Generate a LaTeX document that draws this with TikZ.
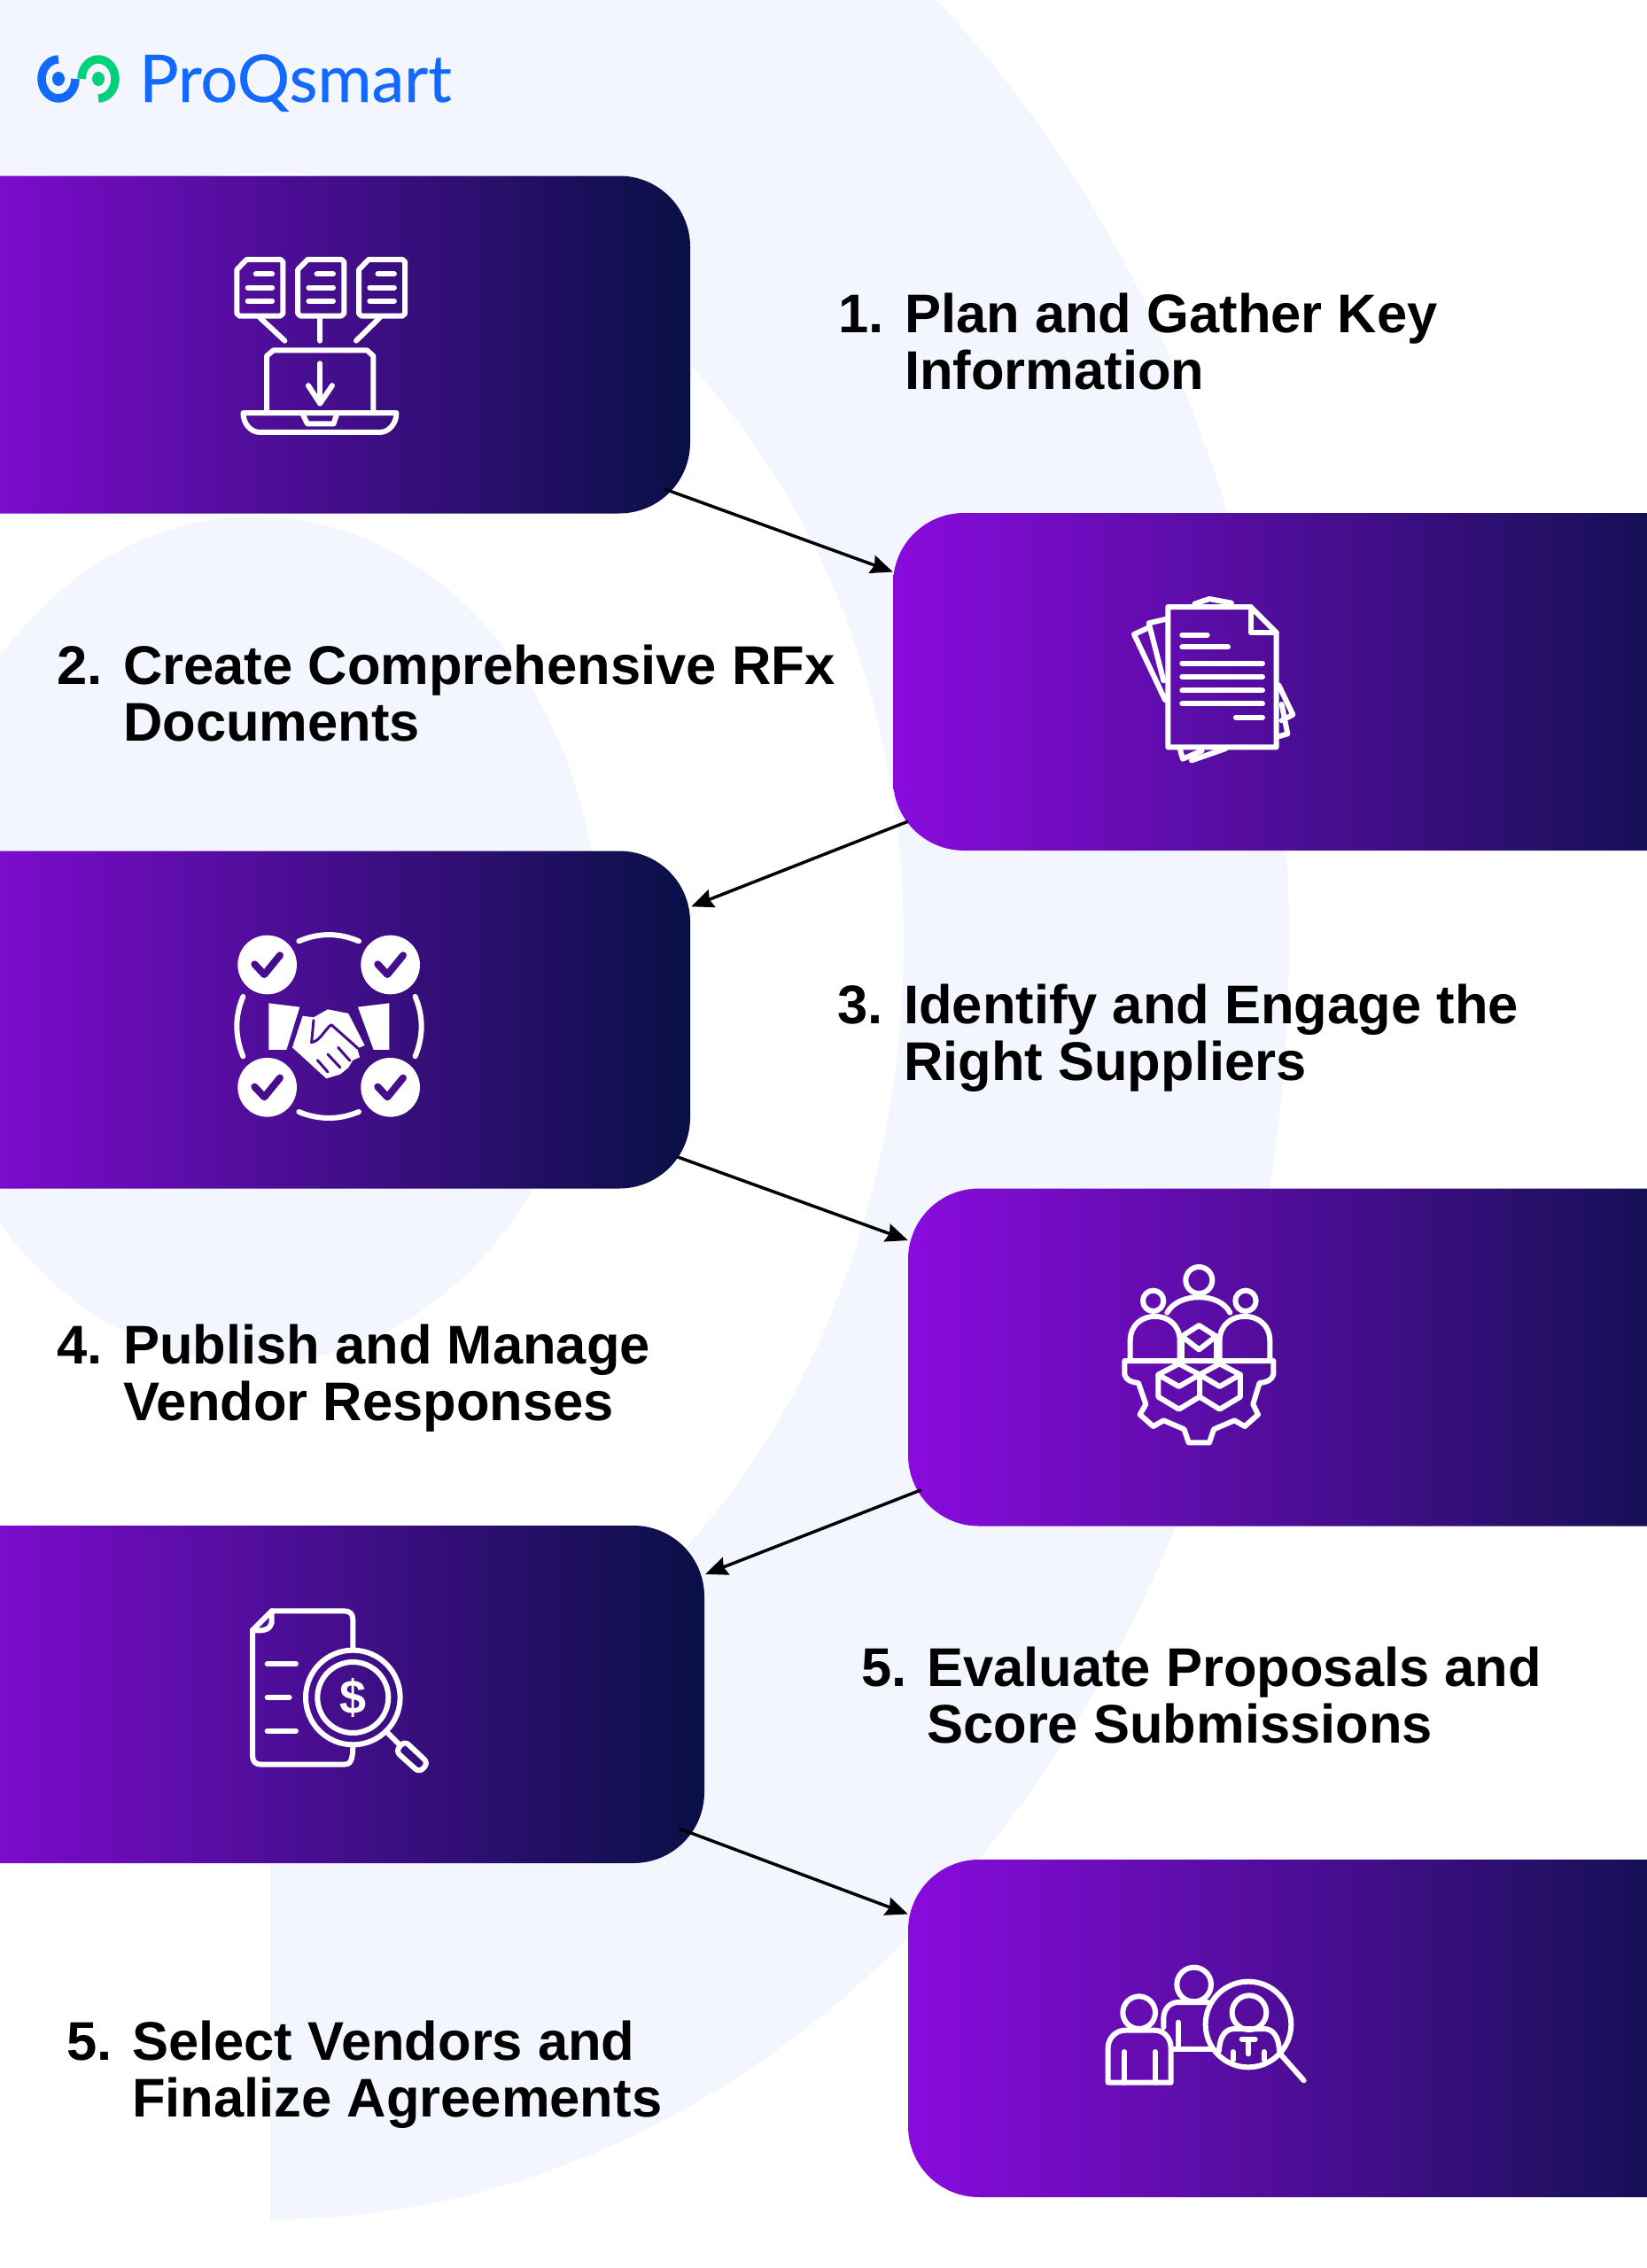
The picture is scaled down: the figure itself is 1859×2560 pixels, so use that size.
\documentclass[tikz,border=0pt]{standalone}
\usepackage{fontspec}
\setmainfont{Liberation Sans}
\newfontfamily\logofont[FakeBold=0.4]{Lato}
\usetikzlibrary{arrows.meta}
\definecolor{backdrop}{HTML}{F3F6FE}
\definecolor{cardstart}{HTML}{8A0BDE}
\definecolor{cardend}{HTML}{081045}
\definecolor{logoblue}{HTML}{1269FB}
\definecolor{logogreen}{HTML}{00D27A}
\definecolor{handdark}{HTML}{460E8C}
\tikzset{
  card/.style={rectangle, minimum height=381pt, inner sep=0pt, rounded corners=80pt, left color=cardstart, right color=cardend},
  flow/.style={line width=3.5pt, black, -{Stealth[length=25pt,width=21pt,inset=3pt]}},
  steplabel/.style={anchor=base west, align=left, inner sep=0pt, font=\bfseries\fontsize{61.5}{64}\selectfont},
  stepnum/.style={anchor=base east, inner sep=0pt, font=\bfseries\fontsize{61.5}{64}\selectfont},
  icon/.style={line width=6pt, white, line cap=round, line join=round},
  tick/.style={line width=8pt, line cap=round, line join=round}
}
\begin{document}
\begin{tikzpicture}[x=1pt,y=-1pt]
   \useasboundingbox (0,0) rectangle (1859,2560);
   \clip (0,0) rectangle (1859,2560);
   \fill[white] (0,0) rectangle (1859,2560);

   \fill[backdrop] (0,-340) -- (305,-340) arc[start angle=-90,end angle=0,x radius=1150,y radius=1400] arc[start angle=0,end angle=90,x radius=1150,y radius=1445] -- (305,1060) -- (0,1060) -- cycle;
   \fill[white] (1020,1060) arc[start angle=0,end angle=-180,x radius=715,y radius=865] arc[start angle=180,end angle=0,x radius=715,y radius=910] -- cycle;
   \fill[backdrop] (288,1061) ellipse[x radius=388,y radius=478];

   \foreach \n/\cx/\cy/\w in {1/339.5/389/879, 2/1483.5/769.5/951, 3/339.5/1151/879, 4/1492/1532/934, 5/347.5/1912.5/895, 6/1492/2289.5/934}
   \node[card, minimum width=\w pt] (card\n) at (\cx,\cy) {};

   \draw[flow] ([xshift=-30pt,yshift=28pt]card1.south east) -- ([yshift=124pt]card2.west);
   \draw[flow] ([xshift=17pt,yshift=33pt]card2.south west) -- ([xshift=1pt,yshift=-63pt]card3.north east);
   \draw[flow] ([xshift=-15pt,yshift=36pt]card3.south east) -- ([yshift=132pt]card4.west);
   \draw[flow] ([xshift=15pt,yshift=41pt]card4.south west) -- ([xshift=1pt,yshift=-55pt]card5.north east);
   \draw[flow] ([xshift=-28pt,yshift=39pt]card5.south east) -- ([yshift=129pt]card6.west);

   \node[stepnum] (num1) at (998,375) {1.};
   \node[steplabel] (label1) at (1021,439) {Plan and Gather Key\\Information};
   \node[stepnum] (num2) at (116,772) {2.};
   \node[steplabel] (label2) at (139,836) {Create Comprehensive RFx\\Documents};
   \node[stepnum] (num3) at (997,1155) {3.};
   \node[steplabel] (label3) at (1020,1219) {Identify and Engage the\\Right Suppliers};
   \node[stepnum] (num4) at (116,1539) {4.};
   \node[steplabel] (label4) at (139,1603) {Publish and Manage\\Vendor Responses};
   \node[stepnum] (num5) at (1024,1903) {5.};
   \node[steplabel] (label5) at (1046,1967) {Evaluate Proposals and\\Score Submissions};
   \node[stepnum] (num6) at (127,2325) {5.};
   \node[steplabel] (label6) at (149,2389) {Select Vendors and\\Finalize Agreements};

   \node[anchor=base west, inner sep=0pt, text=logoblue, font=\logofont\fontsize{74}{74}\selectfont] (logo) at (157,115) {ProQsmart};
   \draw[logoblue, line width=9.5pt] (66,67) arc[start angle=-90,end angle=-360,x radius=19,y radius=22];
   \fill[logoblue] (66,89) ellipse[x radius=7,y radius=8];
   \draw[logogreen, line width=9.5pt] (92,89) arc[start angle=180,end angle=450,x radius=19,y radius=22];
   \fill[logogreen] (111,89) ellipse[x radius=7,y radius=8];

   \begin{scope}[x=.5102pt,y=-.3827pt,icon]
      \foreach \d in {0,135,270}{
      \draw[shift={(\d,0)}] (546,765) -- (620,765) -- (626,772) -- (626,925) -- (620,932) -- (530,932) -- (524,925) -- (524,795) -- cycle;
      \draw[shift={(\d,0)}] (566,808) -- (602,808);
      \draw[shift={(\d,0)}] (548,848) -- (602,848);
      \draw[shift={(\d,0)}] (548,888) -- (602,888);
      }
      \draw (575,937) -- (630,1005);
      \draw (708,937) -- (708,1005);
      \draw (840,937) -- (788,1005);
      \draw (590,1218) -- (590,1050) -- (605,1033) -- (812,1033) -- (826,1050) -- (826,1218);
      \draw (708,1072) -- (708,1190);
      \draw (682,1137) -- (708,1190) -- (735,1137);
      \draw (538,1218) -- (877,1218) .. controls (877,1250) and (860,1275) .. (840,1275) -- (575,1275) .. controls (555,1275) and (538,1250) .. (538,1218) -- cycle;
      \draw (670,1222) -- (680,1250) -- (738,1250) -- (745,1222);
   \end{scope}

   \begin{scope}[shift={(1230,640)},x=.3333pt,y=-.3333pt,icon]
      \draw (265,135) -- (545,135) -- (632,222) -- (632,610) -- (265,610) -- cycle;
      \draw (545,135) -- (545,222) -- (632,222);
      \draw (265,175) -- (200,190) -- (250,385);
      \draw (200,205) -- (150,228) -- (255,450);
      \draw (355,125) -- (405,108) -- (480,122);
      \draw (640,400) -- (688,500) -- (650,520);
      \draw (650,465) -- (670,565) -- (635,575);
      \draw (305,615) -- (315,650) -- (380,622);
      \draw (345,655) -- (460,615);
      \foreach \y/\a/\b in {230/313/398, 271/313/468, 326/313/585, 372/313/585, 418/313/585, 463/313/585, 509/495/585}
      \draw (\a,\y) -- (\b,\y);
   \end{scope}

   \begin{scope}[shift={(230,1020)},x=.3333pt,y=-.3333pt,icon]
      \foreach \cx/\cy in {215/207, 632/207, 215/622, 632/622}{
      \fill (\cx,\cy) circle[radius=100];
      \draw[tick, handdark] (\cx-43,\cy-2) -- (\cx-10,\cy+33) -- (\cx+43,\cy-32);
      }
      \draw (322,127) .. controls (390,98) and (457,98) .. (525,127);
      \draw (322,705) .. controls (390,733) and (457,733) .. (525,705);
      \draw (133,315) .. controls (105,380) and (105,450) .. (133,517);
      \draw (716,315) .. controls (744,380) and (744,450) .. (716,517);
      \fill (220,337) -- (325,350) -- (280,495) -- (220,495) -- cycle;
      \fill (628,337) -- (522,350) -- (575,495) -- (628,495) -- cycle;
      \fill (335,380) -- (372,385) -- (420,358) -- (490,372) -- (545,480) -- (520,490) -- (528,520) -- (505,530) -- (490,555) -- (462,578) -- (415,592) -- (300,487) -- cycle;
      \draw[handdark, line width=3pt] (372,395) -- (365,470) .. controls (395,465) and (410,425) .. (432,410) -- (522,490);
      \draw[handdark, line width=3pt] (385,530) -- (420,570);
      \draw[handdark, line width=3pt] (420,510) -- (462,555);
      \draw[handdark, line width=3pt] (455,487) -- (495,532);
   \end{scope}

   \begin{scope}[shift={(1230,1400)},x=.3333pt,y=-.3333pt,icon]
      \draw (370,135) circle[radius=45];
      \draw (215,205) circle[radius=35];
      \draw (528,205) circle[radius=35];
      \draw (137,405) -- (137,340) .. controls (137,230) and (305,230) .. (305,340) -- (305,405);
      \draw (440,405) -- (440,340) .. controls (440,230) and (610,230) .. (610,340) -- (610,405);
      \draw (262,245) .. controls (300,175) and (440,175) .. (475,245);
      \draw (118,408) -- (622,408) -- (622,455) .. controls (615,475) and (600,480) .. (575,483) -- (553,555) -- (570,590) -- (525,630) -- (490,610) -- (420,640) -- (405,685) -- (335,685) -- (320,640) -- (250,610) -- (215,630) -- (170,590) -- (190,555) -- (165,483) .. controls (140,480) and (125,475) .. (118,455) -- cycle;
      \draw (312,325) -- (370,288) -- (428,325) -- (370,370) -- cycle;
      \draw (312,325) -- (312,408);
      \draw (428,325) -- (428,408);
      \draw (232,455) -- (302,418) -- (372,455) -- (302,495) -- cycle;
      \draw (232,455) -- (232,530) -- (302,572) -- (372,530) -- (372,455);
      \draw (372,455) -- (440,418) -- (510,455) -- (440,495) -- cycle;
      \draw (510,455) -- (510,530) -- (440,572) -- (372,530);
   \end{scope}

   \begin{scope}[shift={(260,1790)},x=.3333pt,y=-.3333pt,icon]
      \draw (415,215) -- (415,115) .. controls (415,95) and (405,85) .. (385,85) -- (140,85) -- (75,150) -- (75,575) .. controls (75,595) and (85,605) .. (105,605) -- (385,605) .. controls (405,605) and (415,595) .. (415,540);
      \draw (140,85) -- (140,125) .. controls (135,145) and (120,155) .. (75,150);
      \draw (125,265) -- (222,265);
      \draw (125,378) -- (200,378);
      \draw (125,491) -- (222,491);
      \draw (415,378) circle[radius=160];
      \draw (415,378) circle[radius=120];
      \node[text=white, inner sep=0pt, font=\bfseries\fontsize{54}{54}\selectfont] (dollar) at (415,378) {\$};
      \draw (535,500) -- (570,535);
      \draw[rounded corners=6pt] (560,560) -- (590,525) -- (670,600) -- (640,632) -- cycle;
   \end{scope}

   \begin{scope}[shift={(1220,2190)},x=.3333pt,y=-.3333pt,icon]
      \draw (197,245) circle[radius=55];
      \draw (92,482) -- (92,365) .. controls (92,330) and (120,305) .. (150,305) -- (250,305) .. controls (280,305) and (305,330) .. (305,365) -- (305,482) -- cycle;
      \draw (147,378) -- (147,482);
      \draw (252,378) -- (252,482);
      \draw (383,150) circle[radius=58];
      \draw (280,295) -- (280,265) .. controls (280,235) and (300,210) .. (330,210) -- (430,210);
      \draw (330,278) -- (330,368);
      \draw (310,368) -- (445,368);
      \draw (567,285) circle[radius=145];
      \draw (570,245) circle[radius=58];
      \draw (468,375) .. controls (470,325) and (490,300) .. (520,300) -- (620,300) .. controls (650,300) and (670,325) .. (672,375);
      \draw (515,378) -- (515,405);
      \draw (620,378) -- (620,405);
      \draw (545,335) -- (590,335);
      \draw (567,340) -- (567,385);
      \draw (675,385) -- (755,475);
   \end{scope}
\end{tikzpicture}
\end{document}
